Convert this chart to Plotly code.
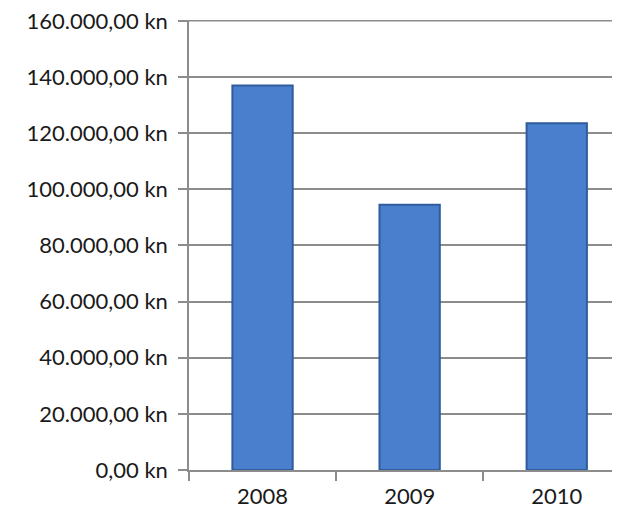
import plotly.graph_objects as go

years = ["2008", "2009", "2010"]
amounts = [137000, 94500, 123500]
y_ticks = [0, 20000, 40000, 60000, 80000, 100000, 120000, 140000, 160000]


def kn(v):
    s = f"{v:,.2f}".replace(",", "X").replace(".", ",").replace("X", ".")
    return s + " kn"


y_labels = [kn(v) for v in y_ticks]

fig = go.Figure()
fig.add_trace(go.Bar(
    x=years, y=amounts, width=0.41,
    marker=dict(color="#4a7fcd", line=dict(color="#2f5c9c", width=2)),
))
# top gridline (plotly drops the gridline at the range edge)
fig.add_hline(y=y_ticks[-1], line=dict(color="#8c8c8c", width=1.5), layer="below")

font = dict(family="Lato, 'Open Sans', sans-serif", size=22, color="#1a1a1a")
fig.update_layout(
    width=612, height=508,
    margin=dict(l=181, r=0, t=12, b=46),
    plot_bgcolor="white", paper_bgcolor="white",
    showlegend=False,
    font=font,
    xaxis=dict(
        type="category", range=[-0.5, 2.43], tickson="boundaries",
        ticks="outside", ticklen=9, tickcolor="#8c8c8c", tickwidth=1.5,
        showline=True, linecolor="#8c8c8c", linewidth=1.5,
        showgrid=False, tickfont=font, automargin=False, ticklabelstandoff=6,
    ),
    yaxis=dict(
        range=[0, 160300], tickvals=y_ticks, ticktext=y_labels,
        ticks="outside", ticklen=9, tickcolor="#8c8c8c", tickwidth=1.5,
        showline=True, linecolor="#8c8c8c", linewidth=1.5,
        showgrid=True, gridcolor="#8c8c8c", gridwidth=1.5,
        zeroline=False, tickfont=font, ticklabelstandoff=6, automargin=False,
        ticklabeloverflow="allow",
    ),
)
fig.write_html("out.html")
